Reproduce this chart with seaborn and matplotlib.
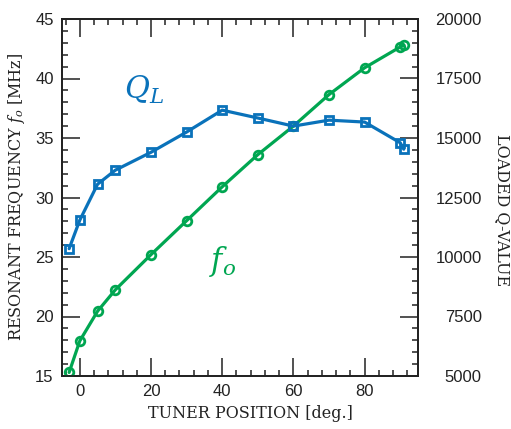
import numpy as np
import pandas as pd
import matplotlib
matplotlib.use('Agg')
import matplotlib.pyplot as plt
from matplotlib.ticker import MultipleLocator
import seaborn as sns

# Resonant frequency f0 [MHz] vs tuner position [deg.]
f0_pos = [-3, 0, 5, 10, 20, 30, 40, 50, 60, 70, 80, 90, 91]
f0_mhz = [15.3, 17.95, 20.45, 22.25, 25.2, 28.05, 30.9, 33.6, 36.0, 38.65, 40.9, 42.65, 42.8]

# Loaded Q-value vs tuner position [deg.]
q_pos = [-3, 0, 5, 10, 20, 30, 40, 50, 60, 70, 80, 90, 91]
q_val = [10350, 11550, 13060, 13650, 14400, 15250, 16170, 15840, 15500, 15750, 15670, 14800, 14530]

blue = '#0A72BA'
green = '#00A651'

sns.set_style('white')
plt.rcParams['mathtext.fontset'] = 'dejavuserif'
plt.rcParams['font.family'] = ['Liberation Sans', 'DejaVu Sans']

fig = plt.figure(figsize=(5.11, 4.29), dpi=100)
ax = fig.add_axes([62 / 511, 53 / 429, 356 / 511, 357 / 429])
ax2 = ax.twinx()

df_f = pd.DataFrame({'pos': f0_pos, 'f0': f0_mhz})
df_q = pd.DataFrame({'pos': q_pos, 'q': q_val})

sns.lineplot(data=df_f, x='pos', y='f0', ax=ax, color=green, lw=2.3,
             marker='o', markersize=6.2, mfc='none', mec=green, mew=2.0, zorder=3)
sns.lineplot(data=df_q, x='pos', y='q', ax=ax2, color=blue, lw=2.3,
             marker='s', markersize=5.8, mfc='none', mec=blue, mew=2.0, zorder=3)

ax.set_xlim(-5, 95)
ax.set_ylim(15, 45)
ax2.set_ylim(5000, 20000)

ax.xaxis.set_major_locator(MultipleLocator(20))
ax.xaxis.set_minor_locator(MultipleLocator(4))
ax.yaxis.set_major_locator(MultipleLocator(5))
ax.yaxis.set_minor_locator(MultipleLocator(1))
ax2.yaxis.set_major_locator(MultipleLocator(2500))
ax2.yaxis.set_minor_locator(MultipleLocator(500))

for a in (ax, ax2):
    for s in a.spines.values():
        s.set_color('#222222')
        s.set_linewidth(1.3)

ax.tick_params(axis='x', which='both', direction='in', top=True, bottom=True,
               color='#222222', labelcolor='#222222', labelsize=12, pad=6)
ax.tick_params(axis='y', which='both', direction='in', left=True, right=False,
               color='#222222', labelcolor='#222222', labelsize=12, pad=6)
ax.tick_params(which='major', length=13, width=1.1)
ax.tick_params(which='minor', length=4.5, width=1.1)
ax2.tick_params(axis='y', which='both', direction='in', right=True, left=False,
                color='#222222', labelcolor='#222222', labelsize=12, pad=46)
ax2.tick_params(which='major', length=13, width=1.1)
ax2.tick_params(which='minor', length=4.5, width=1.1)
for lbl in ax2.get_yticklabels():
    lbl.set_horizontalalignment('right')

ax.set_xlabel('')
ax.set_ylabel('')
ax2.set_ylabel('')

serif = ['DejaVu Serif']
fig.text(250 / 511, 1 - 413 / 429, 'TUNER POSITION [deg.]', ha='center', va='center',
         family=serif, fontsize=11.5, color='#222222')
fig.text(17 / 511, 1 - 197 / 429, r'RESONANT FREQUENCY $f_o$ [MHz]', ha='center', va='center',
         rotation=90, family=serif, fontsize=11.5, color='#222222')
fig.text(502 / 511, 1 - 210 / 429, 'LOADED Q-VALUE', ha='center', va='center',
         rotation=270, family=serif, fontsize=11.5, color='#222222')

ax.text(18, 39.0, r'$Q_L$', color=blue, fontsize=22, ha='center', va='center')
ax.text(40, 24.6, r'$f_o$', color=green, fontsize=22, ha='center', va='center')

fig.savefig('out.png', dpi=100, facecolor='white')
